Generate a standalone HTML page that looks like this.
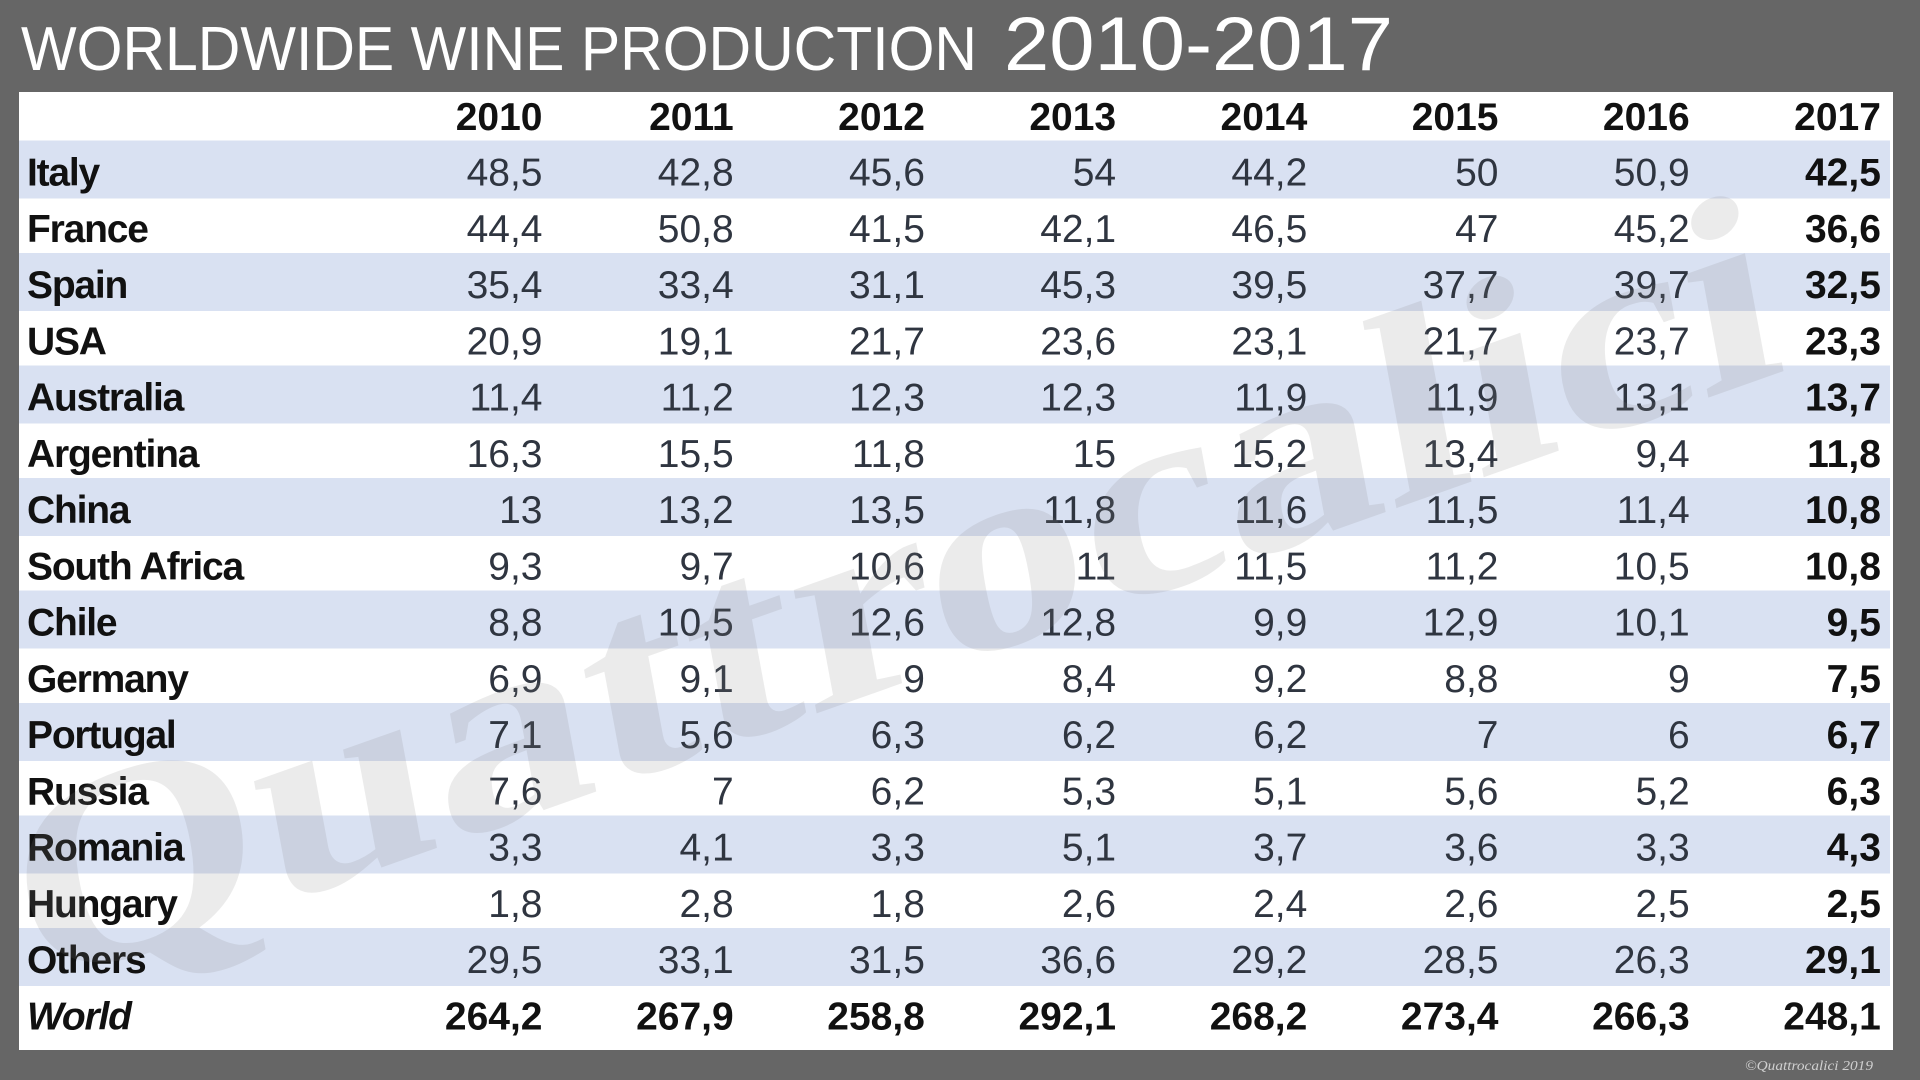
<!DOCTYPE html>
<html lang="en">
<head>
<meta charset="utf-8">
<title>Worldwide wine production 2010-2017</title>
<style>
html,body{margin:0;padding:0;background:#666;width:1920px;height:1080px;overflow:hidden}
svg{display:block}
text{font-family:"Liberation Sans",sans-serif}
.val{font-size:39px;fill:#2f3540;text-anchor:end}
.bold{font-weight:bold;fill:#111}
.label{font-size:39px;font-weight:bold;fill:#111;letter-spacing:-1.2px}
</style>
</head>
<body>
<svg id="chart" xmlns="http://www.w3.org/2000/svg" width="1920" height="1080" viewBox="0 0 1920 1080">
  <rect width="1920" height="1080" fill="#666666"/>
  <text x="21" y="70" font-size="62" fill="#ffffff" textLength="956" lengthAdjust="spacingAndGlyphs">WORLDWIDE WINE PRODUCTION</text>
  <text x="1004" y="70" font-size="76" fill="#ffffff" textLength="389" lengthAdjust="spacingAndGlyphs">2010-2017</text>
  <rect x="19" y="92" width="1874" height="958" fill="#ffffff"/>
  <g id="bands"></g>
  <g id="cells"></g>
  <text transform="translate(30 992) rotate(-19.5) skewX(-9)" style="font-family:'Liberation Serif',serif" font-weight="bold" font-size="270" fill="#808080" fill-opacity="0.16" textLength="1865" lengthAdjust="spacingAndGlyphs">Quattrocalici</text>
  <text x="1745" y="1070" style="font-family:'Liberation Serif',serif" font-style="italic" font-size="14" fill="#d0d0d0" textLength="128" lengthAdjust="spacingAndGlyphs">©Quattrocalici 2019</text>
</svg>
<script>
const years = [2010, 2011, 2012, 2013, 2014, 2015, 2016, 2017];
const countries = ["Italy", "France", "Spain", "USA", "Australia", "Argentina", "China", "South Africa", "Chile", "Germany", "Portugal", "Russia", "Romania", "Hungary", "Others", "World"];
const italy = [48.5, 42.8, 45.6, 54, 44.2, 50, 50.9, 42.5];
const france = [44.4, 50.8, 41.5, 42.1, 46.5, 47, 45.2, 36.6];
const spain = [35.4, 33.4, 31.1, 45.3, 39.5, 37.7, 39.7, 32.5];
const usa = [20.9, 19.1, 21.7, 23.6, 23.1, 21.7, 23.7, 23.3];
const australia = [11.4, 11.2, 12.3, 12.3, 11.9, 11.9, 13.1, 13.7];
const argentina = [16.3, 15.5, 11.8, 15, 15.2, 13.4, 9.4, 11.8];
const china = [13, 13.2, 13.5, 11.8, 11.6, 11.5, 11.4, 10.8];
const southAfrica = [9.3, 9.7, 10.6, 11, 11.5, 11.2, 10.5, 10.8];
const chile = [8.8, 10.5, 12.6, 12.8, 9.9, 12.9, 10.1, 9.5];
const germany = [6.9, 9.1, 9, 8.4, 9.2, 8.8, 9, 7.5];
const portugal = [7.1, 5.6, 6.3, 6.2, 6.2, 7, 6, 6.7];
const russia = [7.6, 7, 6.2, 5.3, 5.1, 5.6, 5.2, 6.3];
const romania = [3.3, 4.1, 3.3, 5.1, 3.7, 3.6, 3.3, 4.3];
const hungary = [1.8, 2.8, 1.8, 2.6, 2.4, 2.6, 2.5, 2.5];
const others = [29.5, 33.1, 31.5, 36.6, 29.2, 28.5, 26.3, 29.1];
const world = [264.2, 267.9, 258.8, 292.1, 268.2, 273.4, 266.3, 248.1];
const rows = [italy, france, spain, usa, australia, argentina, china, southAfrica, chile, germany, portugal, russia, romania, hungary, others, world];

const NS = "http://www.w3.org/2000/svg";
const colX = i => 542.5 + i * 191.2;
const rowY = i => 185.5 + i * 56.25;
const bandY = i => 140.5 + i * 56.25;
const fmt = v => String(v).replace(".", ",");
const bandsG = document.getElementById("bands");
const cellsG = document.getElementById("cells");

function addText(parent, x, y, cls, str) {
  const t = document.createElementNS(NS, "text");
  t.setAttribute("x", x);
  t.setAttribute("y", y);
  t.setAttribute("class", cls);
  t.textContent = str;
  parent.appendChild(t);
  return t;
}

years.forEach((yr, c) => {
  const t = addText(cellsG, colX(c), 130, "val bold", yr);
  
  
});

countries.forEach((name, r) => {
  if (r % 2 === 0 && r < 15) {
    const b = document.createElementNS(NS, "rect");
    b.setAttribute("x", 19);
    b.setAttribute("y", bandY(r));
    b.setAttribute("width", 1871);
    b.setAttribute("height", 58);
    b.setAttribute("fill", "#d9e1f2");
    
    
    bandsG.appendChild(b);
  }
  const lab = addText(cellsG, 27, rowY(r), "label", name);
  
  
  if (r === 15) lab.setAttribute("font-style", "italic");
  rows[r].forEach((v, c) => {
    const isBold = r === 15 || c === 7;
    const cell = addText(cellsG, colX(c), rowY(r), isBold ? "val bold" : "val", fmt(v));
    
    
  });
});
</script>
</body>
</html>
